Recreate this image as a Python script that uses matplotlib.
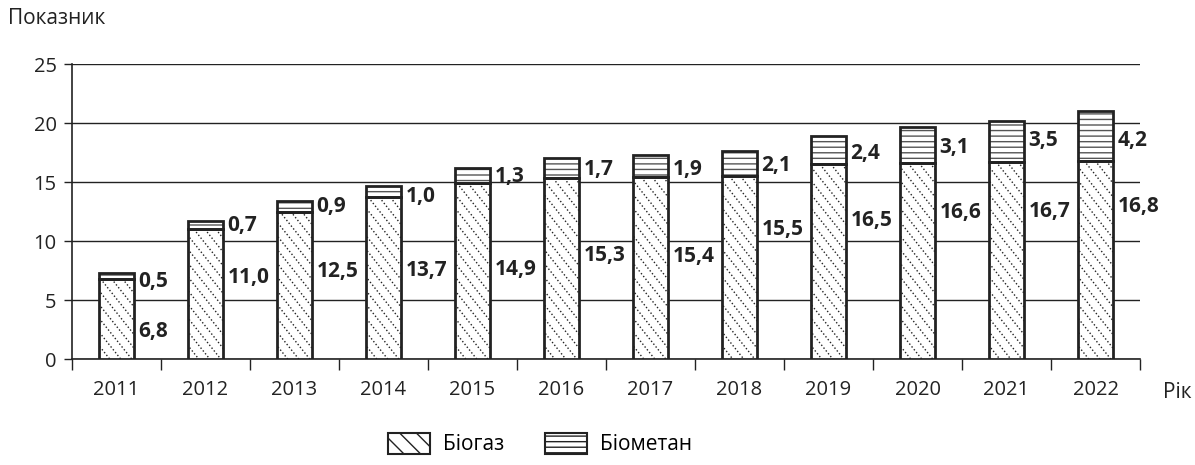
import numpy as np
import matplotlib.pyplot as plt
from matplotlib.patches import Patch
from matplotlib.lines import Line2D
from matplotlib.transforms import IdentityTransform

plt.rcParams['font.family'] = ['Open Sans', 'DejaVu Sans']
plt.rcParams['hatch.linewidth'] = 1.0

years = ['2011', '2012', '2013', '2014', '2015', '2016',
         '2017', '2018', '2019', '2020', '2021', '2022']
biogas = [6.8, 11.0, 12.5, 13.7, 14.9, 15.3, 15.4, 15.5, 16.5, 16.6, 16.7, 16.8]
biomethan = [0.5, 0.7, 0.9, 1.0, 1.3, 1.7, 1.9, 2.1, 2.4, 3.1, 3.5, 4.2]

# heights where the value labels sit in the source figure
biogas_label_y = [2.3, 6.9, 7.4, 7.5, 7.6, 8.8, 8.7, 11.0, 11.7, 12.4, 12.5, 12.9]
biomethan_label_y = [6.6, 11.3, 12.9, 13.8, 15.5, 16.1, 16.1, 16.4, 17.4, 17.9, 18.5, 18.5]

ink = '#222222'


def fmt(v):
    return f'{v:.1f}'.replace('.', ',')


def dotted_hatch(rect, spacing=11.0, slope=0.8):
    # dotted diagonal lines (top-left to bottom-right), clipped to the bar
    x0, y0 = ax.transData.transform((rect.get_x(), rect.get_y()))
    x1, y1 = ax.transData.transform((rect.get_x() + rect.get_width(),
                                     rect.get_y() + rect.get_height()))
    h = y1 - y0
    for s in np.arange(x0 - h * slope, x1 + spacing, spacing):
        ln = Line2D([s, s + h * slope], [y1, y0], transform=IdentityTransform(),
                    color=ink, linewidth=1.0, linestyle=(0, (1.0, 1.6)), zorder=3.5)
        ax.add_artist(ln)
        ln.set_clip_path(rect)


fig = plt.figure(figsize=(11.95, 4.65), dpi=100)
ax = fig.add_axes([72 / 1195, 1 - 359 / 465, (1140 - 72) / 1195, (359 - 64) / 465])

x = np.arange(len(years))
w = 0.4
bg = np.array(biogas)
bm = np.array(biomethan)

ax.set_xlim(-0.5, len(years) - 0.5)
ax.set_ylim(0, 25)

bars_bg = ax.bar(x, bg, w, color='white', linewidth=0, zorder=3)
ax.bar(x, bm, w, bottom=bg, color='white', edgecolor='#555555', hatch='---', linewidth=0, zorder=3)
for r in bars_bg:
    dotted_hatch(r)
# thick outlines
ax.bar(x, bg, w, fill=False, edgecolor=ink, linewidth=2.0, zorder=4)
ax.bar(x, bm, w, bottom=bg, fill=False, edgecolor=ink, linewidth=2.0, zorder=4)

for i in range(len(years)):
    ax.text(x[i] + w / 2 + 0.045, biomethan_label_y[i], fmt(bm[i]), ha='left', va='center',
            fontsize=15, fontweight='bold', color=ink, zorder=5)
    ax.text(x[i] + w / 2 + 0.045, biogas_label_y[i], fmt(bg[i]), ha='left', va='center',
            fontsize=15, fontweight='bold', color=ink, zorder=5)

ax.set_yticks(np.arange(0, 26, 5))
ax.yaxis.grid(True, color=ink, linewidth=1.0)
ax.set_axisbelow(True)

ax.set_xticks(x)
ax.set_xticklabels(years)
ax.set_xticks(np.arange(-0.5, len(years), 1), minor=True)
ax.tick_params(axis='x', which='major', length=0, pad=15, labelsize=14.5, labelcolor=ink)
ax.tick_params(axis='x', which='minor', length=8, width=1.0, direction='out', color=ink)
ax.tick_params(axis='y', length=6, width=1.0, pad=5, labelsize=14.5, labelcolor=ink, color=ink)

for s in ['top', 'right']:
    ax.spines[s].set_visible(False)
for s in ['left', 'bottom']:
    ax.spines[s].set_color(ink)
    ax.spines[s].set_linewidth(1.2)

fig.text(8 / 1195, 1 - 18 / 465, 'Показник', fontsize=15, color=ink, va='center')
fig.text(1163 / 1195, 1 - 392 / 465, 'Рік', fontsize=15, color=ink, va='center')

handles = [Patch(facecolor='white', edgecolor=ink, hatch='\\\\', linewidth=1.5),
           Patch(facecolor='white', edgecolor=ink, hatch='---', linewidth=1.5)]
fig.legend(handles, ['Біогаз', 'Біометан'], loc='center', ncol=2,
           bbox_to_anchor=(540 / 1195, 1 - 444 / 465), frameon=False, fontsize=15,
           handlelength=2.0, handleheight=1.2, columnspacing=2.0, handletextpad=0.6)

fig.savefig('out.png', dpi=100)
